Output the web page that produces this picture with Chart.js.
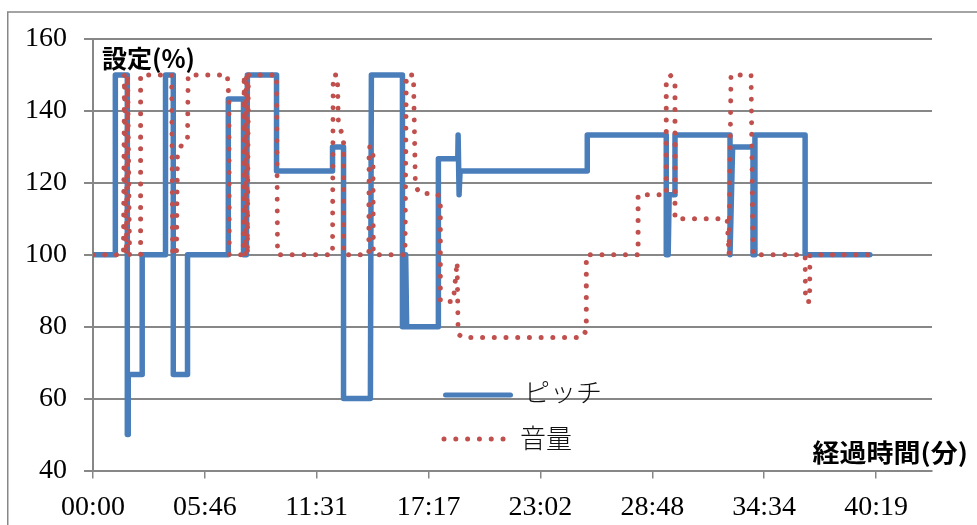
<!DOCTYPE html>
<html><head><meta charset="utf-8">
<script src="https://cdn.jsdelivr.net/npm/chart.js@4"></script>
<style>html,body{margin:0;padding:0;background:#fff;overflow:hidden}#wrap{position:relative;width:977px;height:525px}</style>
</head><body><div id="wrap"><canvas id="c" width="977" height="525"></canvas></div>
<script>
// time in seconds since start
const pitchTimes = [0,69,69,106,106,109,109,152,152,224,224,248,248,292,292,418,418,465,465,474,477,567,567,740,740,774,774,857,860,956,956,959,963,966,969,1067,1067,1127,1128,1131,1134,1527,1527,1771,1771,1777,1780,1798,1798,1968,1968,1976,2039,2039,2045,2045,2200,2200,2400];
const pitchValues = [100,100,150,150,50,50,66.7,66.7,100,100,150,150,66.7,66.7,100,100,143.3,143.3,100,100,150,150,123.3,123.3,130,130,60,60,150,150,80,100,80,100,80,80,126.7,126.7,133.3,116.7,123.3,123.3,133.3,133.3,100,100,116.7,116.7,133.3,133.3,100,130,130,100,100,133.3,133.3,100,100];
const volumeTimes = [0,94,97,103,107,113,147,147,243,246,258,261,276,292,294,415,420,421,464,467,471,474,477,480,567,570,740,742,755,758,774,774,852,853,865,866,964,968,990,996,1011,1061,1073,1073,1113,1125,1128,1141,1511,1524,1524,1684,1684,1771,1771,1783,1798,1798,1959,1965,1971,2033,2039,2200,2201,2214,2215,2400];
const volumeValues = [100,100,150,100,150,100,100,150,150,100,100,128,131,132,150,150,143,100,100,150,100,150,100,150,150,100,100,150,150,137,132,100,100,130,130,100,100,150,150,119,117,117,116,87,87,98,78,77,77,79,100,100,116.7,116.7,148,150,148,110,110,100,150,150,100,100,87,87,100,100];
const xTickValues = [0,345.6,691.2,1036.8,1382.4,1728,2073.6,2419.2];
const xTickLabels = ['00:00','05:46','11:31','17:17','23:02','28:48','34:34','40:19'];
const yTickValues = [40,60,80,100,120,140,160];
const seriesNames = ['ピッチ','音量'];
const yTitle = '設定(%)';
const xTitle = '経過時間(分)';

const BLUE = '#4a7ebb', RED = '#c0504d', GRAY = '#878787';
const toPts = (xs, ys) => xs.map((x, i) => ({x: x, y: ys[i]}));

const decor = {
  id: 'decor',
  beforeDraw(chart) {
    const ctx = chart.ctx;
    ctx.save();
    ctx.fillStyle = '#fff';
    ctx.fillRect(0, 0, chart.width, chart.height);
    ctx.strokeStyle = GRAY; ctx.lineWidth = 1.5;
    ctx.beginPath();
    ctx.moveTo(7.75, 525); ctx.lineTo(7.75, 12); ctx.lineTo(977, 12);
    ctx.stroke();
    ctx.restore();
  },
  afterDraw(chart) {
    const ctx = chart.ctx;
    ctx.save();
    ctx.fillStyle = '#000';
    ctx.textBaseline = 'middle';
    ctx.font = 'bold 25px "Noto Sans CJK JP"';
    ctx.textAlign = 'left';
    ctx.fillText(yTitle, 102, 58);
    ctx.save();
    ctx.translate(968, 452);
    ctx.scale(1.08, 1);
    ctx.textAlign = 'right';
    ctx.fillText(xTitle, 0, 0);
    ctx.restore();
    // legend
    ctx.lineCap = 'round';
    ctx.strokeStyle = BLUE; ctx.lineWidth = 5;
    ctx.beginPath(); ctx.moveTo(445.5, 395); ctx.lineTo(510.5, 395); ctx.stroke();
    ctx.strokeStyle = RED; ctx.lineWidth = 5;
    ctx.setLineDash([0.01, 11.8]);
    ctx.beginPath(); ctx.moveTo(444, 439); ctx.lineTo(506, 439); ctx.stroke();
    ctx.setLineDash([]);
    ctx.font = '300 26px "Noto Sans CJK JP"';
    ctx.textAlign = 'left';
    ctx.fillStyle = '#111';
    ctx.fillText(seriesNames[0], 524, 392);
    ctx.fillText(seriesNames[1], 520, 438);
    ctx.restore();
  }
};

new Chart(document.getElementById('c'), {
  type: 'line',
  data: {
    datasets: [
      {label: seriesNames[1], data: toPts(volumeTimes, volumeValues), borderColor: RED, borderWidth: 5,
       borderDash: [0.01, 11.7], borderCapStyle: 'round', borderJoinStyle: 'round', pointRadius: 0, tension: 0, order: 0, fill: false},
      {label: seriesNames[0], data: toPts(pitchTimes, pitchValues), borderColor: BLUE, borderWidth: 5.5,
       borderCapStyle: 'round', borderJoinStyle: 'round', pointRadius: 0, tension: 0, order: 1, fill: false}
    ]
  },
  options: {
    responsive: false, animation: false, devicePixelRatio: 1,
    layout: {padding: {left: 0, top: 39, right: 45, bottom: 0}},
    plugins: {legend: {display: false}, tooltip: {enabled: false}},
    events: [],
    scales: {
      x: {
        type: 'linear', min: 0, max: 2592,
        afterFit(s) { s.height = 54.5; },
        afterBuildTicks(s) { s.ticks = xTickValues.map(v => ({value: v})); },
        grid: {drawOnChartArea: false, drawTicks: true, tickLength: 8, color: GRAY, lineWidth: 1.5},
        border: {display: true, color: GRAY, width: 2},
        ticks: {autoSkip: false, maxRotation: 0, padding: 12, color: '#000',
                font: {family: '"Liberation Serif"', size: 28},
                callback: (v, i) => xTickLabels[i]}
      },
      y: {
        min: 40, max: 160,
        afterFit(s) { s.width = 93; },
        afterBuildTicks(s) { s.ticks = yTickValues.map(v => ({value: v})); },
        grid: {color: GRAY, lineWidth: 2, tickLength: 9},
        border: {display: true, color: GRAY, width: 2},
        ticks: {padding: 17, color: '#000', font: {family: '"Liberation Serif"', size: 28}}
      }
    }
  },
  plugins: [decor]
});
</script></body></html>
